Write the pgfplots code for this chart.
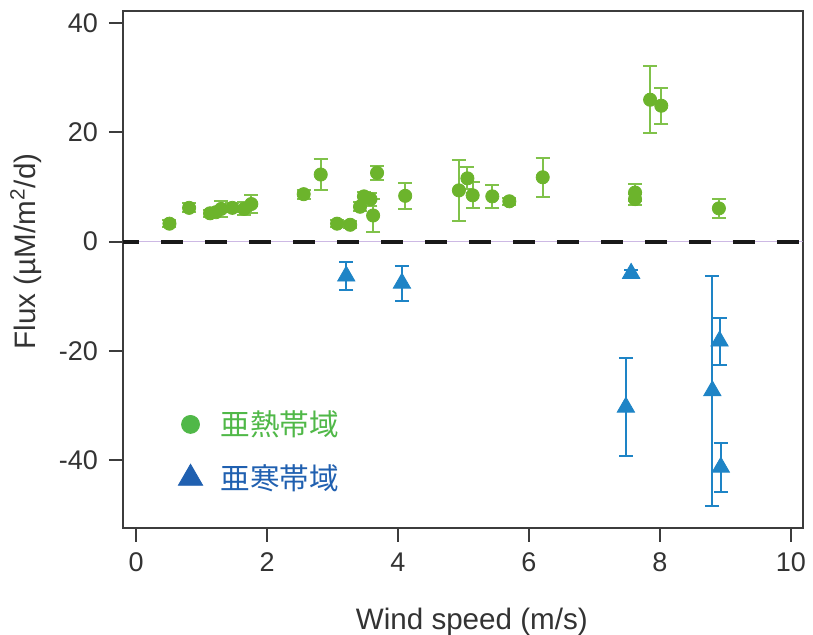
\documentclass[border=0pt]{standalone}
\usepackage{pgfplots}
\pgfplotsset{compat=1.18}
\usepackage{pgfplotstable}
\usepackage{fontspec}
\setmainfont{Liberation Sans}
\newfontfamily\cjk{Noto Sans CJK JP}
\definecolor{gpt}{RGB}{108,180,44}
\definecolor{gerr}{RGB}{128,194,74}
\definecolor{bpt}{RGB}{30,132,198}
\definecolor{lgreen}{RGB}{80,184,72}
\definecolor{lblue}{RGB}{32,96,176}
\definecolor{axgray}{RGB}{60,60,60}
\definecolor{zline}{RGB}{205,185,228}

\pgfplotstableread{
x y e
0.51 3.3 0.6
0.81 6.2 0.8
1.13 5.2 0.6
1.22 5.4 0.8
1.30 6.0 1.5
1.47 6.2 0.8
1.65 6.0 1.2
1.76 6.9 1.7
2.56 8.7 0.8
2.82 12.3 2.8
3.07 3.3 0.6
3.27 3.1 0.6
3.42 6.4 0.8
3.48 8.3 0.8
3.58 7.8 1.2
3.62 4.8 3.0
3.68 12.6 1.3
4.11 8.4 2.4
4.93 9.4 5.6
5.06 11.6 2.0
5.14 8.5 2.4
5.44 8.3 2.1
5.70 7.4 0.6
6.21 11.8 3.6
7.62 9.0 1.5
7.62 7.8 1.0
7.85 26.0 6.1
8.02 24.9 3.3
8.90 6.1 1.7
}\green

\pgfplotstableread{
x y e
3.21 -6.3 2.6
4.06 -7.6 3.2
7.56 -5.8 0.6
7.48 -30.3 9.0
8.80 -27.3 21.1
8.91 -18.2 4.3
8.93 -41.3 4.5
}\blue

\begin{document}
\begin{tikzpicture}
\begin{axis}[
  scale only axis, width=340pt, height=258.5pt,
  xmin=-0.2, xmax=10.18, ymin=-52.4, ymax=42.25,
  xtick={0,2,4,6,8,10}, ytick={-40,-20,0,20,40},
  axis line style={axgray, line width=1pt},
  tick style={axgray, line width=1pt},
  tick align=outside, major tick length=7pt,
  xtick pos=bottom, ytick pos=left,
  ticklabel style={font=\fontsize{13.5}{15}\selectfont, text=black!80},
  xticklabel style={yshift=-2pt},
  yticklabel style={xshift=-2pt},
  /pgf/number format/assume math mode=true,
  xlabel={Wind speed (m/s)},
  ylabel={Flux (µM/m\textsuperscript{2}/d)},
  label style={font=\fontsize{14.8}{17}\selectfont, text=black!80},
  xlabel style={yshift=-11pt, xshift=4.5pt},
  ylabel style={yshift=2pt, xshift=9pt},
  legend style={at={(rel axis cs:0.081,0.148)}, anchor=west, draw=none, fill=none,
    font=\fontsize{14.8}{17}\selectfont, row sep=9pt, column sep=7pt, inner xsep=0pt,
    nodes={inner xsep=2pt}},
  legend cell align=left,
]
\addplot[zline, line width=0.5pt, forget plot] coordinates {(-0.2,0) (10.18,0)};
\addplot[black!90, line width=2pt, dash pattern=on 11pt off 11pt, dash phase=3pt, forget plot] coordinates {(-0.2,0) (10.18,0)};

\addplot[only marks, mark=*, mark size=3.3pt, color=gpt, mark options={fill=gpt, draw=gpt}, forget plot,
  error bars/.cd, y dir=both, y explicit,
  error bar style={gerr, line width=1pt},
  error mark options={gerr, mark size=3.5pt, line width=1pt, rotate=90}]
  table[x=x, y=y, y error=e] {\green};

\addplot[only marks, mark=triangle*, mark size=5pt, color=bpt, mark options={fill=bpt, draw=bpt}, forget plot,
  error bars/.cd, y dir=both, y explicit,
  error bar style={bpt, line width=1pt},
  error mark options={bpt, mark size=3.5pt, line width=1pt, rotate=90}]
  table[x=x, y=y, y error=e] {\blue};

\addlegendimage{only marks, mark=*, mark size=4.5pt, color=lgreen, mark options={fill=lgreen, draw=lgreen}}
\addlegendentry{\textcolor{lgreen}{\cjk 亜熱帯域}}
\addlegendimage{only marks, mark=triangle*, mark size=7pt, color=lblue, mark options={fill=lblue, draw=lblue}}
\addlegendentry{\textcolor{lblue}{\cjk 亜寒帯域}}
\end{axis}
\pgfresetboundingbox
\path ([shift={(-61.5pt,-53.5pt)}]current axis.south west) rectangle ([shift={(5.15pt,5.5pt)}]current axis.north east);
\end{tikzpicture}
\end{document}
